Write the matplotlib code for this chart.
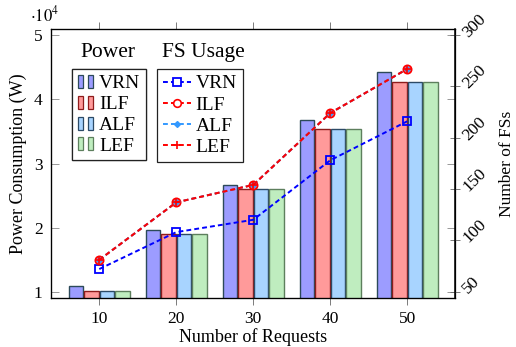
import matplotlib
matplotlib.use('Agg')
import matplotlib.pyplot as plt
from matplotlib.patches import Patch
from matplotlib.lines import Line2D
from matplotlib.legend_handler import HandlerTuple
import numpy as np

plt.rcParams['font.family'] = ['Liberation Serif', 'DejaVu Serif']
plt.rcParams['mathtext.fontset'] = 'stix'

# data
requests = [10, 20, 30, 40, 50]
power_vrn = [11000, 19700, 26700, 36700, 44300]
power_ilf = [10200, 19100, 26100, 35400, 42700]
power_alf = [10200, 19100, 26100, 35400, 42700]
power_lef = [10200, 19100, 26100, 35400, 42700]

fs_vrn = [72, 108, 120, 178, 216]
fs_ilf = [81, 137, 154, 224, 267]
fs_alf = [81, 137, 154, 224, 267]
fs_lef = [81, 137, 154, 224, 267]

names = ['VRN', 'ILF', 'ALF', 'LEF']
bar_fill = ['#9c9cff', '#ff9a9a', '#a8d4ff', '#bfedbf']
bar_edge = ['#2c4a5a', '#8e1c1c', '#2c4a66', '#5d7f5d']

fig = plt.figure(figsize=(5.16, 3.47), dpi=100)
ax = fig.add_axes([0.0988, 0.1412, 0.7830, 0.7752])
ax2 = ax.twinx()

x = np.array(requests)
offs = [-3, -1, 1, 3]
powers = [power_vrn, power_ilf, power_alf, power_lef]
for i in range(4):
    ax.bar(x + offs[i], np.array(powers[i]) / 1e4, width=1.9,
           color=bar_fill[i], edgecolor=bar_edge[i], linewidth=1.0, zorder=2)

ax.set_xlim(3.73, 56.2)
ax.set_ylim(0.907, 5.093)
ax.set_xticks(requests)
ax.set_yticks([1, 2, 3, 4, 5])
ax.tick_params(axis='x', direction='out', top=True, length=5, width=0.6,
               color='#666666', labelsize=12.5, pad=4)
ax.tick_params(axis='y', direction='in', right=True, length=6, width=0.6,
               color='#888888', labelsize=12.5, pad=6)
for s in ax.spines.values():
    s.set_linewidth(0.9)
ax.set_xlabel('Number of Requests', fontsize=13, labelpad=1)
ax.set_ylabel('Power Consumption (W)', fontsize=13, labelpad=5)
fig.text(0.058, 0.957, r'$\cdot 10^{4}$', fontsize=12, ha='left', va='center')

# FS usage lines
dash = (0, (2.5, 1.6))
ax2.plot(requests, fs_vrn, color='#0000ff', ls=dash, lw=1.4, marker='s',
         ms=5.5, mfc='none', mec='#0000ff', mew=1.3, zorder=5)
ax2.plot(requests, fs_ilf, color='#ff0000', ls=dash, lw=1.4, marker='o',
         ms=6, mfc='#ff6a6a', mec='#ff0000', mew=1.2, zorder=5)
ax2.plot(requests, fs_alf, color='#3399ff', ls=dash, lw=1.4, marker='D',
         ms=3, mfc='#3399ff', mec='#3399ff', zorder=6)
ax2.plot(requests, fs_lef, color='#ff0000', ls=dash, lw=1.4, marker='+',
         ms=6, mew=1.2, zorder=7)

ax2.set_ylim(43.8, 305.9)
ax2.set_yticks([50, 100, 150, 200, 250, 300])
ax2.tick_params(axis='y', direction='inout', length=7, width=0.6,
                color='#666666', labelsize=12.5, pad=4)
for t in ax2.get_yticklabels():
    t.set_rotation(45)
    t.set_rotation_mode('anchor')
    t.set_ha('left')
    t.set_va('center')
ax2.spines['right'].set_linewidth(1.1)
ax2.set_ylabel('Number of FSs', fontsize=12.5, rotation=90, labelpad=7)

# legends
power_handles = []
for i in range(4):
    p = Patch(facecolor=bar_fill[i], edgecolor=bar_edge[i], linewidth=0.9)
    power_handles.append((p, p))
leg1 = ax.legend(power_handles, names, loc='upper left',
                 bbox_to_anchor=(0.1395, 0.801), bbox_transform=fig.transFigure,
                 handler_map={tuple: HandlerTuple(ndivide=None, pad=0.25)},
                 fontsize=14, handlelength=0.8, handleheight=0.65,
                 handletextpad=0.3, labelspacing=0.18, borderpad=0.3,
                 borderaxespad=0, fancybox=False, framealpha=1,
                 edgecolor='#222222')
leg1.get_frame().set_linewidth(0.9)

fs_handles = [
    Line2D([], [], color='#0000ff', ls=dash, lw=1.4, marker='s', ms=5.5,
           mfc='white', mec='#0000ff', mew=1.3),
    Line2D([], [], color='#ff0000', ls=dash, lw=1.4, marker='o', ms=5.5,
           mfc='white', mec='#ff0000', mew=1.2),
    Line2D([], [], color='#3399ff', ls=dash, lw=1.4, marker='D', ms=3,
           mfc='#3399ff', mec='#3399ff'),
    Line2D([], [], color='#ff0000', ls=dash, lw=1.4, marker='+', ms=6, mew=1.2),
]
leg2 = ax2.legend(fs_handles, names, loc='upper left',
                  bbox_to_anchor=(0.304, 0.801), bbox_transform=fig.transFigure,
                  fontsize=14, handlelength=1.45, handletextpad=0.25,
                  labelspacing=0.18, borderpad=0.3, borderaxespad=0,
                  fancybox=False, framealpha=1, edgecolor='#222222')
leg2.get_frame().set_linewidth(0.9)
ax.add_artist(leg1)

fig.text(0.209, 0.850, 'Power', fontsize=15.5, ha='center', va='center')
fig.text(0.395, 0.850, 'FS Usage', fontsize=15.5, ha='center', va='center')

fig.savefig('out.png', dpi=100)
